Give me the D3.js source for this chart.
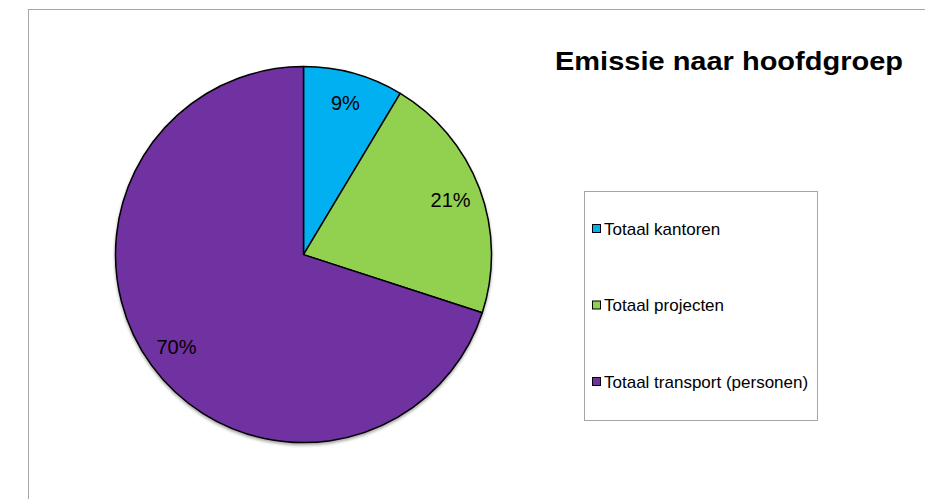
<!DOCTYPE html>
<html><head><meta charset="utf-8">
<script src="https://cdn.jsdelivr.net/npm/d3@7"></script>
<style>html,body{margin:0;padding:0;background:#fff;}svg{display:block;font-family:"Liberation Sans",Arial,sans-serif;}</style>
</head><body>
<svg id="c" width="925" height="499"></svg>
<script>
const categories = ["Totaal kantoren", "Totaal projecten", "Totaal transport (personen)"];
const values = [8.6, 21.4, 70.0];
const pctLabels = ["9%", "21%", "70%"];
const colors = ["#00B0F0", "#92D050", "#7030A0"];
const title = "Emissie naar hoofdgroep";

const svg = d3.select("#c");
const W = 925, H = 499;

svg.append("rect").attr("x", 28.5).attr("y", 9.5).attr("width", W).attr("height", H)
  .attr("fill", "#fff").attr("stroke", "#a6a6a6").attr("stroke-width", 1);

const defs = svg.append("defs");
const f = defs.append("filter").attr("id", "sh").attr("x", "-10%").attr("y", "-10%").attr("width", "120%").attr("height", "120%");
f.append("feDropShadow").attr("dx", 0).attr("dy", 2).attr("stdDeviation", 1.5).attr("flood-color", "#000").attr("flood-opacity", 0.35);

const cx = 303.5, cy = 254.6, R = 188;
const pie = d3.pie().sort(null).value(d => d)(values);
const arc = d3.arc().innerRadius(0).outerRadius(R);
const labelArc = d3.arc().innerRadius(157).outerRadius(157);

const g = svg.append("g").attr("transform", `translate(${cx},${cy})`);
g.append("g").attr("filter", "url(#sh)")
  .selectAll("path").data(pie).join("path")
  .attr("d", arc).attr("fill", (d, i) => colors[i])
  .attr("stroke", "#000").attr("stroke-width", 1.5).attr("stroke-linejoin", "round");

g.selectAll("text.lbl").data(pie).join("text").attr("class", "lbl")
  .attr("transform", d => `translate(${labelArc.centroid(d)})`)
  .attr("text-anchor", "middle").attr("dominant-baseline", "central")
  .attr("font-size", 20).attr("fill", "#000")
  .text((d, i) => pctLabels[i]);

svg.append("text").attr("x", 555).attr("y", 70)
  .attr("font-size", 26).attr("font-weight", "bold").attr("fill", "#000")
  .attr("textLength", 348).attr("lengthAdjust", "spacingAndGlyphs").text(title);

const lg = svg.append("g");
lg.append("rect").attr("x", 584.5).attr("y", 191.5).attr("width", 233).attr("height", 229)
  .attr("fill", "#fff").attr("stroke", "#a6a6a6").attr("stroke-width", 1);
const rowY = d3.scalePoint().domain(categories).range([229, 382]);
const items = lg.selectAll("g.it").data(categories).join("g").attr("class", "it")
  .attr("transform", d => `translate(0,${rowY(d)})`);
items.append("rect").attr("x", 592.5).attr("y", -4.5).attr("width", 8).attr("height", 8)
  .attr("fill", (d, i) => colors[i]).attr("stroke", "#000").attr("stroke-width", 1);
items.append("text").attr("x", 604).attr("y", 0).attr("dominant-baseline", "central")
  .attr("font-size", 17).attr("fill", "#000").text(d => d);
</script>
</body></html>
